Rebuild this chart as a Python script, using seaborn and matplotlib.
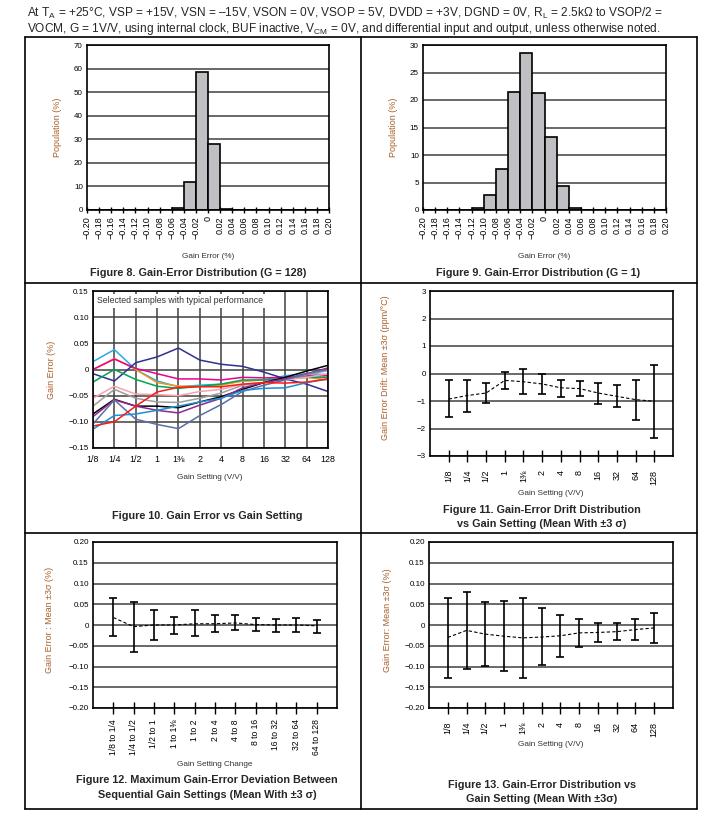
import numpy as np
import pandas as pd
import seaborn as sns
import matplotlib.pyplot as plt
from matplotlib.lines import Line2D

# ---- data ----
bin_edges = [-0.20, -0.18, -0.16, -0.14, -0.12, -0.10, -0.08, -0.06, -0.04, -0.02, 0.0,
             0.02, 0.04, 0.06, 0.08, 0.10, 0.12, 0.14, 0.16, 0.18, 0.20]
bin_labels = ['\u22120.20', '\u22120.18', '\u22120.16', '\u22120.14', '\u22120.12', '\u22120.10',
              '\u22120.08', '\u22120.06', '\u22120.04', '\u22120.02', '0', '0.02', '0.04', '0.06',
              '0.08', '0.10', '0.12', '0.14', '0.16', '0.18', '0.20']
pop_g128 = [0, 0, 0, 0, 0, 0, 0, 0.8, 12.0, 58.5, 28.0, 0.3, 0, 0, 0, 0, 0, 0, 0, 0]
pop_g1 = [0, 0, 0, 0, 0.4, 2.8, 7.5, 21.5, 28.6, 21.2, 13.2, 4.3, 0.4, 0, 0, 0, 0, 0, 0, 0]

gains = ['1/8', '1/4', '1/2', '1', '1\u215c', '2', '4', '8', '16', '32', '64', '128']

# Figure 10: selected samples (gain error %)
sample_colors = ['#29abe2', '#f7941d', '#ec008c', '#2e3192', '#00a651', '#f5a3ad',
                 '#9e9e9e', '#000000', '#92278f', '#5a6fa8', '#1b8fd6', '#ff1a1a']
samples = [
    [0.015, 0.038, 0.000, -0.022, -0.033, -0.030, -0.028, -0.022, -0.020, -0.012, -0.008, -0.010],
    [0.000, 0.021, 0.000, -0.025, -0.032, -0.032, -0.030, -0.022, -0.020, -0.018, -0.015, -0.020],
    [0.000, 0.020, 0.002, -0.008, -0.018, -0.018, -0.020, -0.015, -0.016, -0.015, -0.012, -0.012],
    [-0.008, -0.022, 0.013, 0.024, 0.041, 0.018, 0.010, 0.006, -0.005, -0.018, -0.028, -0.042],
    [-0.024, 0.000, -0.019, -0.032, -0.036, -0.032, -0.028, -0.020, -0.020, -0.018, -0.015, -0.015],
    [-0.055, -0.032, -0.047, -0.048, -0.050, -0.042, -0.038, -0.028, -0.025, -0.020, -0.015, -0.008],
    [-0.070, -0.038, -0.055, -0.062, -0.063, -0.055, -0.045, -0.030, -0.025, -0.018, -0.010, -0.002],
    [-0.085, -0.057, -0.070, -0.070, -0.073, -0.062, -0.052, -0.038, -0.025, -0.015, -0.003, 0.008],
    [-0.090, -0.058, -0.070, -0.078, -0.083, -0.068, -0.055, -0.035, -0.025, -0.018, -0.008, 0.003],
    [-0.104, -0.058, -0.095, -0.105, -0.113, -0.088, -0.067, -0.042, -0.030, -0.020, -0.008, 0.000],
    [-0.114, -0.088, -0.085, -0.078, -0.070, -0.062, -0.055, -0.040, -0.036, -0.035, -0.025, -0.018],
    [-0.108, -0.100, -0.070, -0.043, -0.034, -0.033, -0.033, -0.028, -0.025, -0.026, -0.024, -0.018],
]

# Figure 11: gain error drift (ppm/C)
drift_mean = [-0.93, -0.80, -0.71, -0.25, -0.30, -0.38, -0.52, -0.55, -0.71, -0.83, -0.95, -1.01]
drift_hi = [-0.25, -0.22, -0.36, 0.05, 0.17, -0.02, -0.22, -0.28, -0.33, -0.42, -0.25, 0.32]
drift_lo = [-1.58, -1.40, -1.07, -0.55, -0.75, -0.75, -0.87, -0.82, -1.10, -1.23, -1.68, -2.35]

# Figure 12: deviation between sequential gains (%)
changes = ['1/8 to 1/4', '1/4 to 1/2', '1/2 to 1', '1 to 1\u215c', '1 to 2', '2 to 4',
           '4 to 8', '8 to 16', '16 to 32', '32 to 64', '64 to 128']
dev_mean = [0.018, -0.004, 0.000, 0.000, 0.003, 0.003, 0.005, 0.001, 0.000, 0.000, -0.002]
dev_hi = [0.066, 0.056, 0.036, 0.019, 0.035, 0.023, 0.023, 0.017, 0.014, 0.017, 0.012]
dev_lo = [-0.027, -0.065, -0.035, -0.021, -0.027, -0.017, -0.011, -0.015, -0.016, -0.018, -0.019]

# Figure 13: gain error distribution vs gain (%)
ge_mean = [-0.030, -0.013, -0.022, -0.027, -0.031, -0.029, -0.026, -0.019, -0.018, -0.016, -0.011, -0.007]
ge_hi = [0.064, 0.080, 0.055, 0.057, 0.065, 0.040, 0.024, 0.015, 0.005, 0.004, 0.015, 0.028]
ge_lo = [-0.127, -0.107, -0.098, -0.111, -0.127, -0.096, -0.077, -0.053, -0.040, -0.037, -0.036, -0.043]

pct_labels = ['\u22120.20', '\u22120.15', '\u22120.10', '\u22120.05', '0', '0.05', '0.10', '0.15', '0.20']

# ---- styling ----
sns.set_theme(style="white")
plt.rcParams['font.family'] = ['Liberation Sans', 'DejaVu Sans']
plt.rcParams['mathtext.fontset'] = 'custom'
plt.rcParams['mathtext.rm'] = 'Liberation Sans'
plt.rcParams['mathtext.it'] = 'Liberation Sans:italic'

W, H = 717, 818
fig = plt.figure(figsize=(W / 100, H / 100), dpi=100)
fig.patch.set_facecolor('white')

YLAB = '#a8602a'
GRID = '#404040'
TICK_FS = 5.8
ROT_FS = 6.5
XLAB_FS = 5.9
YLAB_FS = 6.5
CAP_FS = 7.8


def add_ax(l, t, r, b):
    return fig.add_axes([l / W, 1 - b / H, (r - l) / W, (b - t) / H])


def px_text(x, y, s, **kw):
    fig.text(x / W, 1 - y / H, s, **kw)


def style_ax(ax):
    ax.set_facecolor('white')
    for sp in ax.spines.values():
        sp.set_color('black')
        sp.set_linewidth(1.2)
    ax.set_axisbelow(True)
    ax.yaxis.grid(True, color=GRID, linewidth=1.1)
    ax.tick_params(axis='y', length=0, pad=3, labelsize=TICK_FS, colors='black')
    ax.set_xlabel('')
    ax.set_ylabel('')


def mean_err(ax, means, hi, lo):
    x = np.arange(len(means))
    sns.lineplot(x=x, y=means, ax=ax, color='black', linewidth=0.8,
                 linestyle=(0, (3, 2)))
    m = np.array(means)
    ax.errorbar(x, m, yerr=[m - np.array(lo), np.array(hi) - m], fmt='none',
                ecolor='black', elinewidth=1.2, capsize=2.8, capthick=1.2)
    ax.set_xlim(-1, len(means))


# page header
px_text(27, 13, 'At T$_\\mathrm{A}$ = +25\u00b0C, VSP = +15V, VSN = \u201315V, VSON = 0V, VSOP = 5V, '
        'DVDD = +3V, DGND = 0V, R$_\\mathrm{L}$ = 2.5k\u03a9 to VSOP/2 =', fontsize=8.6, va='center')
px_text(27, 29, 'VOCM, G = 1V/V, using internal clock, BUF inactive, V$_\\mathrm{CM}$ = 0V, '
        'and differential input and output, unless otherwise noted.', fontsize=8.6, va='center')

# table frame
for (x0, y0, x1, y1) in [(25, 37, 697, 37), (25, 809, 697, 809), (25, 37, 25, 809),
                         (697, 37, 697, 809), (361, 37, 361, 809), (25, 283, 697, 283),
                         (25, 533, 697, 533)]:
    fig.add_artist(Line2D([x0 / W, x1 / W], [1 - y0 / H, 1 - y1 / H], color='black',
                          linewidth=1.2))

# ---- Figure 8 / 9 : histograms ----
centers = [(a + b) / 2 for a, b in zip(bin_edges[:-1], bin_edges[1:])]
for rect, pops, ymax, ystep, ylx, cx, cap in [
        ((87, 45, 329, 210), pop_g128, 70, 10, 58, 198, 'Figure 8. Gain-Error Distribution (G = 128)'),
        ((423, 45, 666, 210), pop_g1, 30, 5, 393, 538, 'Figure 9. Gain-Error Distribution (G = 1)')]:
    ax = add_ax(*rect)
    sns.histplot(x=centers, weights=pops, bins=bin_edges, ax=ax, color='#c0c0c4',
                 edgecolor='black', linewidth=1.2, alpha=1)
    style_ax(ax)
    ax.set_xlim(-0.2, 0.2)
    ax.set_ylim(0, ymax)
    ax.set_yticks(np.arange(0, ymax + 1, ystep))
    ax.set_xticks(bin_edges)
    ax.set_xticklabels(bin_labels, rotation=90)
    ax.tick_params(axis='x', direction='inout', length=5, width=1, pad=2,
                   labelsize=ROT_FS, bottom=True, colors='black')
    px_text(ylx, (rect[1] + rect[3]) / 2, 'Population (%)', rotation=90, fontsize=YLAB_FS,
            color=YLAB, ha='center', va='center')
    px_text((rect[0] + rect[2]) / 2, 256, 'Gain Error (%)', fontsize=XLAB_FS, color='#333333',
            ha='center', va='center')
    px_text(cx, 273, cap, fontsize=CAP_FS, fontweight='bold', ha='center', va='center')

# ---- Figure 10 : gain error vs gain ----
ax = add_ax(93, 291, 328, 448)
x = np.arange(len(gains))
df = pd.DataFrame([(i, g, v) for i, row in enumerate(samples) for g, v in zip(x, row)],
                  columns=['sample', 'gain', 'err'])
sns.lineplot(data=df, x='gain', y='err', hue='sample', palette=sample_colors, ax=ax,
             linewidth=1.1, legend=False)
style_ax(ax)
ax.xaxis.grid(True, color=GRID, linewidth=1.1)
ax.set_xlim(0, 11)
ax.set_ylim(-0.15, 0.15)
ax.set_yticks([-0.15, -0.10, -0.05, 0, 0.05, 0.10, 0.15])
ax.set_yticklabels(pct_labels[1:-1])
ax.set_xticks(x)
ax.set_xticklabels(gains)
ax.tick_params(axis='x', length=0, pad=5, labelsize=6.4, colors='black')
ax.text(0.015, 0.965, 'Selected samples with typical performance', transform=ax.transAxes,
        fontsize=6.3, color='#333333', va='top', ha='left',
        bbox=dict(facecolor='white', edgecolor='none', pad=1.5))
px_text(52, 370, 'Gain Error (%)', rotation=90, fontsize=YLAB_FS, color=YLAB,
        ha='center', va='center')
px_text(210, 477, 'Gain Setting (V/V)', fontsize=XLAB_FS, color='#333333', ha='center', va='center')
px_text(207, 516, 'Figure 10. Gain Error vs Gain Setting', fontsize=CAP_FS, fontweight='bold',
        ha='center', va='center')

# ---- Figure 11 : drift ----
ax = add_ax(430, 291, 673, 456)
mean_err(ax, drift_mean, drift_hi, drift_lo)
style_ax(ax)
ax.set_ylim(-3, 3)
ax.set_yticks([-3, -2, -1, 0, 1, 2, 3])
ax.set_yticklabels(['\u22123', '\u22122', '\u22121', '0', '1', '2', '3'])
ax.set_xticks(np.arange(len(gains)))
ax.set_xticklabels(gains, rotation=90)
ax.tick_params(axis='x', direction='inout', length=8, width=1, pad=6, labelsize=ROT_FS,
               bottom=True, colors='black')
px_text(385, 368, 'Gain Error Drift: Mean \u00b13\u03c3 (ppm/\u00b0C)', rotation=90,
        fontsize=YLAB_FS, color=YLAB, ha='center', va='center')
px_text(551, 494, 'Gain Setting (V/V)', fontsize=XLAB_FS, color='#333333', ha='center', va='center')
px_text(542, 510, 'Figure 11. Gain-Error Drift Distribution', fontsize=CAP_FS,
        fontweight='bold', ha='center', va='center')
px_text(542, 524, 'vs Gain Setting (Mean With \u00b13 \u03c3)', fontsize=CAP_FS,
        fontweight='bold', ha='center', va='center')

# ---- Figure 12 : sequential deviation ----
ax = add_ax(93, 542, 337, 708)
mean_err(ax, dev_mean, dev_hi, dev_lo)
style_ax(ax)
ax.set_ylim(-0.2, 0.2)
ax.set_yticks([-0.20, -0.15, -0.10, -0.05, 0, 0.05, 0.10, 0.15, 0.20])
ax.set_yticklabels(pct_labels)
ax.set_xticks(np.arange(len(changes)))
ax.set_xticklabels(changes, rotation=90)
ax.tick_params(axis='x', direction='inout', length=8, width=1, pad=4, labelsize=6.2,
               bottom=True, colors='black')
px_text(50, 620, 'Gain Error : Mean \u00b13\u03c3 (%)', rotation=90, fontsize=YLAB_FS, color=YLAB,
        ha='center', va='center')
px_text(215, 764, 'Gain Setting Change', fontsize=XLAB_FS, color='#333333', ha='center',
        va='center')
px_text(207, 780, 'Figure 12. Maximum Gain-Error Deviation Between', fontsize=CAP_FS,
        fontweight='bold', ha='center', va='center')
px_text(207, 795, 'Sequential Gain Settings (Mean With \u00b13 \u03c3)', fontsize=CAP_FS,
        fontweight='bold', ha='center', va='center')

# ---- Figure 13 : gain error vs gain ----
ax = add_ax(429, 542, 673, 708)
mean_err(ax, ge_mean, ge_hi, ge_lo)
style_ax(ax)
ax.set_ylim(-0.2, 0.2)
ax.set_yticks([-0.20, -0.15, -0.10, -0.05, 0, 0.05, 0.10, 0.15, 0.20])
ax.set_yticklabels(pct_labels)
ax.set_xticks(np.arange(len(gains)))
ax.set_xticklabels(gains, rotation=90)
ax.tick_params(axis='x', direction='inout', length=8, width=1, pad=6, labelsize=ROT_FS,
               bottom=True, colors='black')
px_text(387, 620, 'Gain Error: Mean \u00b13\u03c3 (%)', rotation=90, fontsize=YLAB_FS, color=YLAB,
        ha='center', va='center')
px_text(551, 745, 'Gain Setting (V/V)', fontsize=XLAB_FS, color='#333333', ha='center', va='center')
px_text(542, 785, 'Figure 13. Gain-Error Distribution vs', fontsize=CAP_FS, fontweight='bold',
        ha='center', va='center')
px_text(542, 799, 'Gain Setting (Mean With \u00b13\u03c3)', fontsize=CAP_FS, fontweight='bold',
        ha='center', va='center')

fig.savefig('out.png', dpi=100, facecolor='white')
